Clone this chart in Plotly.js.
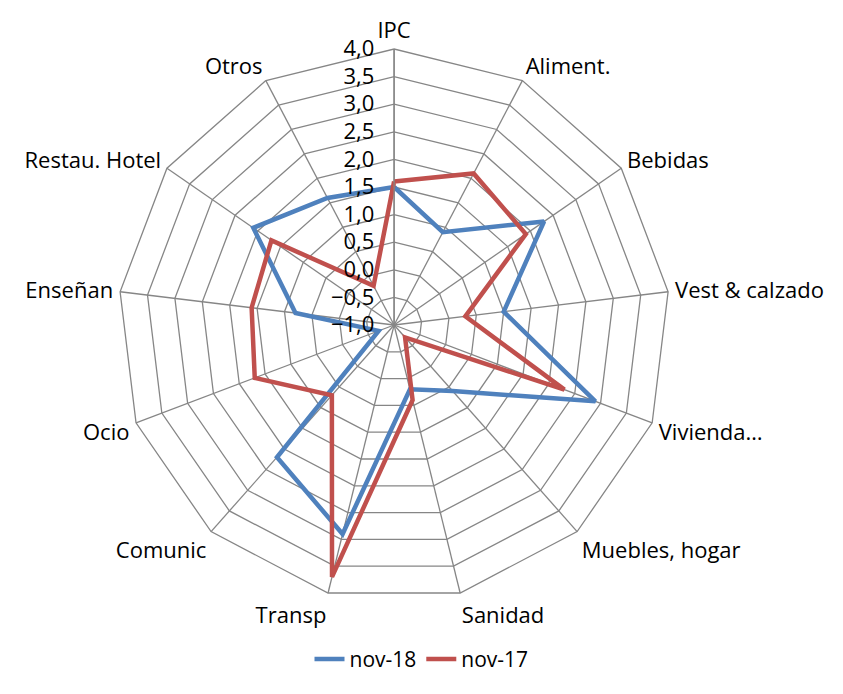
<!DOCTYPE html>
<html>
<head>
<meta charset="utf-8">
<script src="https://cdn.plot.ly/plotly-3.0.1.min.js"></script>
<style>
  html, body { margin: 0; padding: 0; background: #fff; }
  #chart { width: 843px; height: 694px; }
</style>
</head>
<body>
<div id="chart"></div>
<script>
// categorias del radar
var categorias = ['IPC', 'Aliment.', 'Bebidas', 'Vest & calzado', 'Vivienda…', 'Muebles, hogar',
    'Sanidad', 'Transp', 'Comunic', 'Ocio', 'Enseñan', 'Restau. Hotel', 'Otros'];

// valores
var nov18 = [1.5, 0.9, 2.3, 1.0, 2.9, 0.6, 0.2, 2.9, 2.2, -0.7, 0.8, 2.1, 1.6];
var nov17 = [1.6, 2.1, 1.9, 0.3, 2.3, -0.7, 0.4, 3.7, 0.7, 1.7, 1.6, 1.7, -0.2];

var gris = '#868686';
var transparente = 'rgba(0,0,0,0)';

// cerrar el poligono
function cerrar(arr) {
    return arr.concat([arr[0]]);
}

var traza18 = {
    type: 'scatterpolar',
    r: cerrar(nov18),
    theta: cerrar(categorias),
    mode: 'lines',
    name: 'nov-18',
    line: { color: '#4F81BD', width: 4.5 }
};
var traza17 = {
    type: 'scatterpolar',
    r: cerrar(nov17),
    theta: cerrar(categorias),
    mode: 'lines',
    name: 'nov-17',
    line: { color: '#C0504D', width: 4.5 }
};

var layout = {
    width: 843,
    height: 694,
    margin: { l: 0, r: 0, t: 0, b: 0 },
    paper_bgcolor: '#fff',
    separators: ',.',
    font: { family: '"Open Sans", sans-serif', size: 22, color: '#000' },
    showlegend: true,
    legend: {
        orientation: 'h',
        x: 0.5,
        xanchor: 'center',
        y: 0.05,
        yanchor: 'middle',
        font: { size: 21 }
    },
    polar: {
        domain: { x: [0.14, 0.795], y: [0.134, 0.9294] },
        gridshape: 'linear',
        bgcolor: '#fff',
        angularaxis: {
            direction: 'clockwise',
            rotation: 90,
            showline: true,
            linecolor: gris,
            linewidth: 1.3,
            showgrid: true,
            gridcolor: gris,
            gridwidth: 1.3,
            // marcas invisibles para separar las etiquetas
            ticks: 'outside',
            ticklen: 2,
            tickcolor: transparente,
            tickfont: { size: 22 }
        },
        radialaxis: {
            range: [-1, 4],
            dtick: 0.5,
            tick0: -1,
            tickformat: '.1f',
            ticksuffix: '\u00a0\u00a0',
            angle: 90,
            side: 'counterclockwise',
            showline: true,
            linecolor: gris,
            linewidth: 1.3,
            gridcolor: gris,
            gridwidth: 1.3,
            ticks: '',
            tickangle: 90,
            tickfont: { size: 22 }
        }
    }
};

Plotly.newPlot('chart', [traza18, traza17], layout, { staticPlot: true });
</script>
</body>
</html>
